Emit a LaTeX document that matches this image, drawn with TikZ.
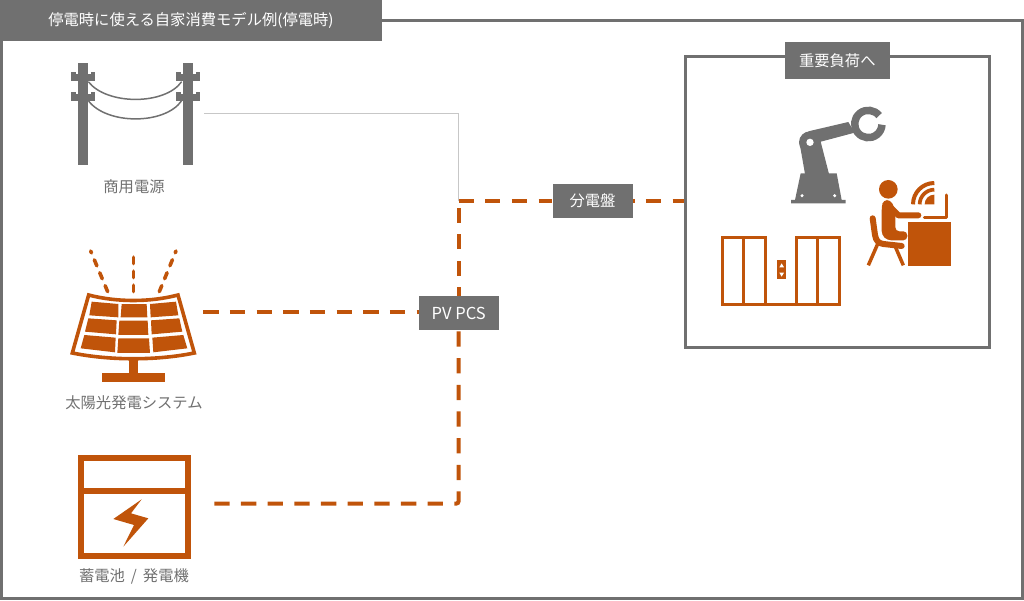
\documentclass[tikz,border=0pt]{standalone}
\usepackage{fontspec}
\setmainfont{Noto Sans CJK JP}
\usepackage{tikz}
\usetikzlibrary{positioning}
\definecolor{boxgray}{HTML}{707070}
\definecolor{rust}{HTML}{C0540A}

\begin{document}
\begin{tikzpicture}[x=1pt, y=-1pt,
    graybox/.style={rectangle, fill=boxgray, text=white, inner sep=0pt, font=\fontsize{15.3}{18}\selectfont},
    iconlabel/.style={text=boxgray, inner sep=0pt, font=\fontsize{15.3}{18}\selectfont},
    powerline/.style={draw=rust, line width=4pt, dash pattern=on 15.3pt off 11.37pt},
    gridline/.style={draw=black!22, line width=1pt},
    frameline/.style={draw=boxgray, line width=3pt}]
    \useasboundingbox (0,0) rectangle (1024,600);

    % Frames
    \draw[frameline] (1.3,20) rectangle (1022.7,598.5);
    \node[graybox, minimum width=381.5pt, minimum height=40.5pt, anchor=north west] (title) at (0,0) {停電時に使える自家消費モデル例(停電時)};
    \draw[frameline] (685,56) rectangle (989,347.5);
    \node[graybox, minimum width=105.5pt, minimum height=37.5pt] (loadlabel) at (837.3,60.7) {重要負荷へ};

    % Boxes and ports
    \node[graybox, minimum width=80pt, minimum height=34pt] (panel) at (592.5,201) {分電盤};
    \node[graybox, minimum width=80pt, minimum height=34.5pt, font=\fontsize{16.5}{18}\selectfont] (pcs) at (458.7,313) {PV PCS};
    \coordinate (gridport) at (204,113);
    \coordinate (gridcorner) at (458.5,113);
    \coordinate (junction) at (458.5,200.5);
    \coordinate (solarport) at (203.3,311.7);
    \coordinate (batteryport) at (214.3,503.5);
    \coordinate (batterycorner) at (458.5,503.5);
    \coordinate (loadport) at (684,200.5);

    % Connectors
    \draw[gridline] (gridport) -- (gridcorner) -- (junction);
    \draw[powerline] (junction) -- (junction -| panel.west);
    \draw[powerline, dash phase=13.5pt] (loadport -| panel.east) -- (loadport);
    \draw[powerline, dash phase=7pt] (junction |- pcs.north) -- ([yshift=-7pt]junction);
    \draw[powerline] (solarport) -- (solarport -| pcs.west);
    \draw[powerline, rounded corners=2pt] (batteryport) -- (batterycorner) -- (batterycorner |- pcs.south);

    % Utility poles
    \begin{scope}[shift={(50,50)}, scale=0.3333]
        \foreach \polex in {0,315} {
            \fill[boxgray] (\polex+85,40) rectangle (\polex+115,345);
            \foreach \army in {65,125} {
                \fill[boxgray] (\polex+63,\army+6) rectangle (\polex+135,\army+29);
                \fill[boxgray] (\polex+63,\army) rectangle (\polex+78,\army+29);
                \fill[boxgray] (\polex+122,\army) rectangle (\polex+135,\army+29);
            }
        }
        \draw[boxgray, line width=1.5pt] (115,95) .. controls (170,166) and (345,166) .. (395,95);
        \draw[boxgray, line width=1.5pt] (115,152) .. controls (170,225) and (345,225) .. (395,152);
    \end{scope}
    \node[iconlabel] (gridlabel) at (134,187) {商用電源};

    % Solar panel
    \begin{scope}[shift={(50,240)}, scale=0.3333]
        \foreach \raytip/\raybase in {122/173,250/250,378/328} {
            \draw[rust, line width=3.6pt, line cap=round, dash pattern=on 6.5pt off 7.5pt] (\raybase,155) -- (\raytip,33);
        }
        \draw[rust, line width=3.6pt] (116,165) .. controls (200,187) and (300,187) .. (384,165) -- (433,339) .. controls (320,362) and (180,362) .. (67,339) -- cycle;
        \fill[rust] (125,185) -- (205,192) -- (205,232) -- (118,226) -- cycle;
        \fill[rust] (215,192) -- (290,192) -- (292,232) -- (212,232) -- cycle;
        \fill[rust] (300,192) -- (378,185) -- (385,226) -- (302,232) -- cycle;
        \fill[rust] (115,235) -- (200,241) -- (198,283) -- (105,275) -- cycle;
        \fill[rust] (208,242) -- (293,242) -- (295,285) -- (205,285) -- cycle;
        \fill[rust] (303,241) -- (388,235) -- (397,275) -- (305,283) -- cycle;
        \fill[rust] (103,285) -- (197,293) -- (195,337) -- (92,325) -- cycle;
        \fill[rust] (205,295) -- (297,295) -- (300,339) -- (202,339) -- cycle;
        \fill[rust] (307,293) -- (400,285) -- (412,325) -- (310,337) -- cycle;
        \fill[rust] (238,355) rectangle (263,402);
        \fill[rust] (157,400) rectangle (345,427);
    \end{scope}
    \node[iconlabel] (solarlabel) at (134,403) {太陽光発電システム};

    % Battery
    \begin{scope}[shift={(60,445)}, scale=0.3333]
        \draw[rust, line width=6pt] (64,39) rectangle (384,334);
        \fill[rust] (64,130) rectangle (384,148);
        \fill[rust] (245,163) -- (160,222) -- (222,240) -- (190,305) -- (265,220) -- (213,205) -- cycle;
    \end{scope}
    \node[iconlabel] (batterylabel) at (134,576) {蓄電池\, / \,発電機};

    % Robot arm
    \begin{scope}[shift={(780,100)}, scale=0.3333]
        \fill[boxgray] (62,220) -- (170,220) -- (185,300) -- (197,300) -- (197,310) -- (33,310) -- (33,300) -- (45,300) -- cycle;
        \fill[boxgray] (58,125) -- (75,222) -- (147,222) -- (122,125) -- cycle;
        \fill[boxgray] (90,127) circle[radius=33pt];
        \fill[boxgray] (85,94) -- (205,66) -- (224,98) -- (115,127) -- cycle;
        \draw[boxgray, line width=7.5pt] (265,72) ++(38:41pt) arc[start angle=38, end angle=357, radius=41pt];
        \fill[white] (90,127) circle[radius=11pt];
        \fill[white] (66,287) circle[radius=5pt];
        \fill[white] (164,287) circle[radius=5pt];
    \end{scope}

    % Office worker
    \begin{scope}[shift={(780,100)}, scale=0.3333]
        \fill[rust] (325,268) circle[radius=28pt];
        \fill[rust, rounded corners=4pt] (305,320) -- (310,300) -- (332,300) -- (346,330) -- (346,394) -- (382,394) -- (382,421) -- (322,421) -- (305,405) -- cycle;
        \draw[rust, line width=6pt, line cap=round, line join=round] (322,312) -- (355,346) -- (415,346);
        \draw[rust, line width=6pt, line cap=round, line join=round] (278,355) -- (285,405) .. controls (288,425) and (298,430) .. (310,432) -- (365,438);
        \draw[rust, line width=3.5pt] (293,432) -- (265,496);
        \draw[rust, line width=3.5pt] (345,438) -- (370,496);
        \fill[rust] (385,365) rectangle (512,498);
        \draw[rust, line width=3pt, line cap=round, line join=round] (500,285) -- (500,352) -- (433,352);
        \draw[rust, line width=4pt] (463,249) arc[start angle=90, end angle=180, radius=64pt];
        \draw[rust, line width=3.7pt] (463,269) arc[start angle=90, end angle=180, radius=44pt];
        \fill[rust] (463,313) -- (463,284) arc[start angle=90, end angle=180, radius=29pt] -- cycle;
    \end{scope}

    % Elevator
    \begin{scope}[shift={(710,225)}, scale=0.3333]
        \draw[rust, line width=3pt] (36,38) rectangle (165,240);
        \draw[rust, line width=3pt] (100,38) -- (100,240);
        \draw[rust, line width=3pt] (258,38) rectangle (388,240);
        \draw[rust, line width=3pt] (323,38) -- (323,240);
        \draw[rust, line width=3pt] (165,240) -- (258,240);
        \fill[rust] (202,105) rectangle (228,163);
        \fill[white] (215,115) -- (222,127) -- (208,127) -- cycle;
        \fill[white] (215,155) -- (222,143) -- (208,143) -- cycle;
    \end{scope}

\end{tikzpicture}
\end{document}
